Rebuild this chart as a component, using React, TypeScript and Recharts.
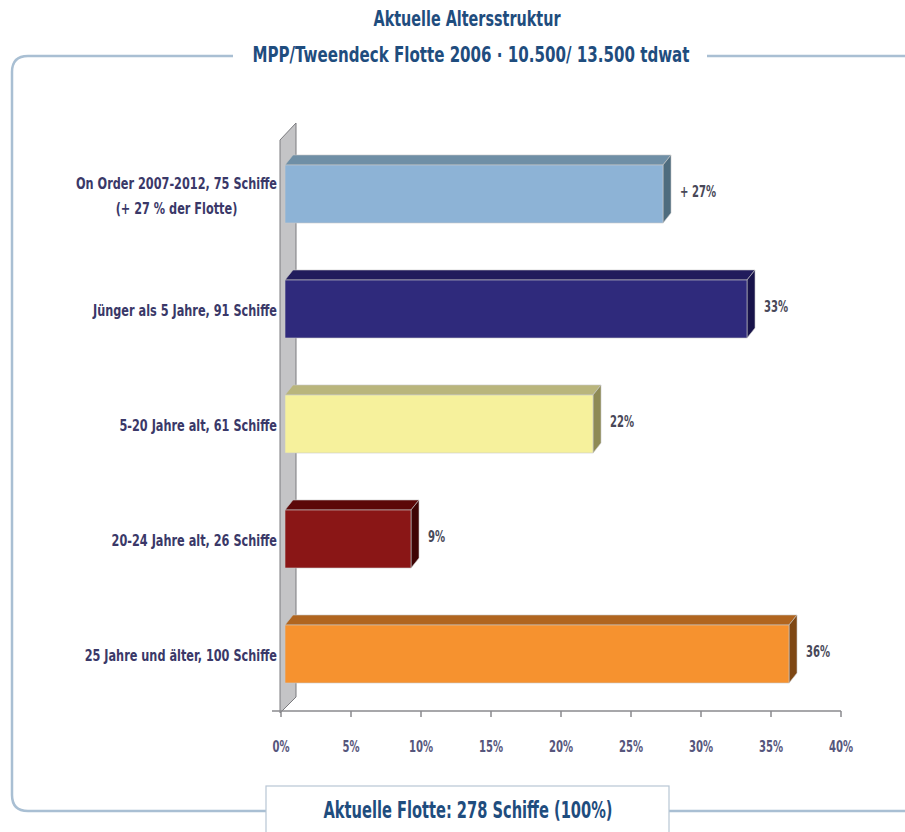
import React from "react";
import { BarChart, Bar, XAxis, YAxis, LabelList } from "recharts";

const categories = [
  "On Order 2007-2012, 75 Schiffe\n(+ 27 % der Flotte)",
  "Jünger als 5 Jahre, 91 Schiffe",
  "5-20 Jahre alt, 61 Schiffe",
  "20-24 Jahre alt, 26 Schiffe",
  "25 Jahre und älter, 100 Schiffe",
];
const shares = [27, 33, 22, 9, 36];
const valueLabels = ["+ 27%", "33%", "22%", "9%", "36%"];
const xTicks = [0, 5, 10, 15, 20, 25, 30, 35, 40];

const title = "Aktuelle Altersstruktur";
const subtitle = "MPP/Tweendeck Flotte 2006 · 10.500/ 13.500 tdwat";
const footer = "Aktuelle Flotte: 278 Schiffe (100%)";

const FRONT = ["#8DB3D6", "#2F2A7C", "#F6F19C", "#8A1616", "#F6922F"];
const TOP = ["#6F8FA6", "#211C5C", "#B9B57C", "#5C0808", "#B0651F"];
const SIDE = ["#4E6C7E", "#18134A", "#8E8A55", "#3E0404", "#7E4714"];

const W = 905;
const H = 832;
const PLOT_LEFT = 281;
const PLOT_RIGHT = 841;
const PLOT_TOP = 136;
const PLOT_BOTTOM = 711;
const DX = 8;
const DY = 10;
const SHIFT = 4;

const FONT = "'DejaVu Sans Condensed', 'DejaVu Sans', 'Liberation Sans', sans-serif";
const TITLE_COLOR = "#1F4D7E";
const LABEL_COLOR = "#3A3868";
const SMALL_SIZE = 16;
const SMALL_SX = 0.785;

const data = categories.map((c, i) => ({ category: c, share: shares[i], label: valueLabels[i] }));

let ctx: CanvasRenderingContext2D | null = null;
function measure(text: string, font: string): number {
  if (!ctx) ctx = document.createElement("canvas").getContext("2d");
  if (!ctx) return text.length * 8;
  ctx.font = font;
  return ctx.measureText(text).width;
}

function CText(props: {
  x: number;
  y: number;
  size: number;
  sx: number;
  anchor?: "start" | "middle" | "end";
  fill: string;
  weight?: string;
  children: React.ReactNode;
}) {
  const { x, y, size, sx, anchor = "start", fill, weight = "bold", children } = props;
  return (
    <text
      transform={`translate(${x},${y}) scale(${sx},1)`}
      x={0}
      y={0}
      textAnchor={anchor}
      dominantBaseline="central"
      fontFamily={FONT}
      fontWeight={weight}
      fontSize={size}
      fill={fill}
    >
      {children}
    </text>
  );
}

function Bar3D(props: any) {
  const { x, y, width, height, index } = props;
  const x0 = x + SHIFT;
  const x1 = x + width + SHIFT;
  const yb = y + height;
  return (
    <g>
      <polygon
        points={`${x0},${y} ${x0 + DX},${y - DY} ${x1 + DX},${y - DY} ${x1},${y}`}
        fill={TOP[index]}
        stroke="#c8c8c8"
        strokeWidth={0.6}
      />
      <polygon
        points={`${x1},${y} ${x1 + DX},${y - DY} ${x1 + DX},${yb - DY} ${x1},${yb}`}
        fill={SIDE[index]}
        stroke="#c8c8c8"
        strokeWidth={0.6}
      />
      <rect x={x0} y={y} width={x1 - x0} height={height} fill={FRONT[index]} stroke="#c8c8c8" strokeWidth={0.6} />
    </g>
  );
}

function ValueLabel(props: any) {
  const { x, y, width, height, value } = props;
  return (
    <CText x={x + width + SHIFT + DX + 9} y={y + height / 2 - 3} size={SMALL_SIZE} sx={0.7} fill="#484858">
      {value}
    </CText>
  );
}

function YTick(props: any) {
  const { x, y, payload } = props;
  const lines: string[] = String(payload.value).split("\n");
  const font = `bold ${SMALL_SIZE}px ${FONT}`;
  const widths = lines.map((l) => measure(l, font) * SMALL_SX);
  const maxW = Math.max(...widths);
  const cx = x - maxW / 2;
  const offsets = lines.length === 1 ? [2] : [-10, 15];
  return (
    <g>
      {lines.map((l, i) => (
        <CText key={i} x={cx} y={y + offsets[i]} size={SMALL_SIZE} sx={SMALL_SX} anchor="middle" fill={LABEL_COLOR}>
          {l}
        </CText>
      ))}
    </g>
  );
}

function XTick(props: any) {
  const { x, y, payload } = props;
  return (
    <CText x={x} y={y} size={SMALL_SIZE} sx={0.7} anchor="middle" fill="#56567C">
      {`${payload.value}%`}
    </CText>
  );
}

function Backdrop() {
  const r = 16;
  const frameColor = "#A9BFD3";
  const L = 12;
  const T = 56;
  const B = 811;
  return (
    <svg width={W} height={H} style={{ position: "absolute", left: 0, top: 0 }}>
      <rect x={0} y={0} width={W} height={H} fill="#ffffff" />
      <path
        d={`M 233 ${T} L ${L + r} ${T} Q ${L} ${T} ${L} ${T + r} L ${L} ${B - r} Q ${L} ${B} ${L + r} ${B} L ${W} ${B}`}
        fill="none"
        stroke={frameColor}
        strokeWidth={2.5}
      />
      <line x1={707} y1={T} x2={W} y2={T} stroke={frameColor} strokeWidth={2.5} />
      <text
        x={467}
        y={19}
        textAnchor="middle"
        dominantBaseline="central"
        fontFamily={FONT}
        fontWeight="bold"
        fontSize={21}
        fill={TITLE_COLOR}
        textLength={187}
        lengthAdjust="spacingAndGlyphs"
      >
        {title}
      </text>
      <text
        x={471}
        y={55}
        textAnchor="middle"
        dominantBaseline="central"
        fontFamily={FONT}
        fontWeight="bold"
        fontSize={21}
        fill={TITLE_COLOR}
        textLength={437}
        lengthAdjust="spacingAndGlyphs"
      >
        {subtitle}
      </text>
      <polygon
        points={`${PLOT_LEFT - 1},${PLOT_TOP + 4} ${PLOT_LEFT + 15},${PLOT_TOP - 13} ${PLOT_LEFT + 15},${PLOT_BOTTOM - 14} ${PLOT_LEFT - 1},${PLOT_BOTTOM + 2}`}
        fill="#C4C4C6"
        stroke="#7A7A7E"
        strokeWidth={1}
      />
      <line x1={272} y1={PLOT_BOTTOM} x2={PLOT_LEFT} y2={PLOT_BOTTOM} stroke="#8A8A8E" strokeWidth={1.5} />
      <rect x={266} y={786} width={403} height={60} fill="#ffffff" stroke="#B8C6D4" strokeWidth={1.2} />
      <text
        x={468}
        y={810}
        textAnchor="middle"
        dominantBaseline="central"
        fontFamily={FONT}
        fontWeight="bold"
        fontSize={23}
        fill={TITLE_COLOR}
        textLength={289}
        lengthAdjust="spacingAndGlyphs"
      >
        {footer}
      </text>
    </svg>
  );
}

export default function App() {
  return (
    <div style={{ position: "absolute", left: 0, top: 0, width: W, height: H }}>
      <Backdrop />
      <div style={{ position: "absolute", left: 0, top: 0 }}>
        <BarChart
          width={W}
          height={H}
          data={data}
          layout="vertical"
          margin={{ top: PLOT_TOP, right: W - PLOT_RIGHT, bottom: H - PLOT_BOTTOM - 40, left: 0 }}
          barCategoryGap={0}
        >
          <XAxis
            type="number"
            domain={[0, 40]}
            ticks={xTicks}
            interval={0}
            height={40}
            tick={<XTick />}
            tickSize={6}
            tickMargin={29}
            stroke="#8A8A8E"
            strokeWidth={1.5}
            allowDataOverflow
          />
          <YAxis
            type="category"
            dataKey="category"
            width={PLOT_LEFT}
            tick={<YTick />}
            tickSize={0}
            tickMargin={4}
            axisLine={false}
            interval={0}
          />
          <Bar dataKey="share" barSize={58} shape={<Bar3D />} isAnimationActive={false}>
            <LabelList dataKey="label" content={<ValueLabel />} />
          </Bar>
        </BarChart>
      </div>
    </div>
  );
}
